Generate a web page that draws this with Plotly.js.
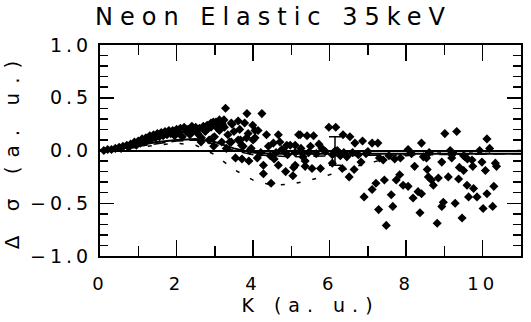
<!DOCTYPE html>
<html>
<head>
<meta charset="utf-8">
<script src="https://cdn.plot.ly/plotly-3.0.1.min.js"></script>
<style>
html,body{margin:0;padding:0;background:#fff;}
#chart{width:531px;height:322px;}
.gtitle{letter-spacing:7px;}
.xtick text,.ytick text{letter-spacing:4px;}
.xtitle{letter-spacing:7px;}
.ytitle{letter-spacing:9px;}
</style>
</head>
<body>
<div id="chart"></div>
<script>
// Measured points: momentum transfer K (a.u.) and delta sigma (a.u.)
const kPoints = [
  0.1,0.2,0.3,0.4,0.5,0.55,0.6,0.7,0.75,0.8,0.9,0.95,1.0,1.05,1.1,1.15,1.2,1.25,1.3,1.35,1.4,1.45,1.5,1.55,1.6,1.65,1.7,1.75,1.8,1.85,1.9,1.95,2.0,2.05,2.1,2.15,2.2,2.25,2.3,2.35,2.4,2.45,2.5,2.55,2.6,2.65,2.7,2.75,2.8,2.85,2.9,
  3.28,3.84,4.23,2.96,3.12,3.24,3.43,3.61,3.78,3.99,4.13,4.35,4.66,4.70,4.97,5.19,5.41,3.54,3.71,3.89,4.11,4.27,4.27,4.47,4.66,4.85,5.04,5.06,5.36,
  3.43,3.61,3.34,3.12,2.95,2.77,2.64,2.97,3.18,4.00,3.87,4.40,4.53,4.80,3.05,3.50,3.70,3.95,4.20,4.45,4.60,4.90,5.10,5.25,3.30,3.20,2.90,3.65,4.05,4.55,5.30,
  3.83,3.67,3.45,3.25,3.03,3.16,3.08,2.99,3.39,3.74,3.91,4.75,4.88,5.28,5.45,4.05,
  5.98,6.16,6.35,6.53,6.66,6.86,7.11,7.26,5.23,5.58,5.10,5.50,5.72,
  5.10,5.36,5.54,5.76,6.07,6.33,6.51,6.64,6.82,6.90,7.11,7.21,7.28,7.43,7.48,7.61,7.65,7.74,7.83,7.92,8.05,8.18,8.22,8.36,8.31,8.40,8.40,8.53,8.55,8.58,8.66,8.71,8.84,8.81,8.93,8.97,9.01,8.93,9.10,9.15,9.19,9.32,9.28,9.37,9.39,9.46,9.50,9.54,9.59,9.63,9.72,9.76,9.74,9.85,9.92,9.98,10.01,10.07,10.11,10.11,10.18,10.26,10.29,10.33,10.36,
  5.89,5.80,6.07,6.20,6.37,6.60,6.95,7.30,7.40,7.55,7.70,8.05,8.14,8.45,8.60,9.20,9.50,9.60,6.45,6.75,7.00,5.65,6.28,7.85
];
const sigmaPoints = [
  0.00,0.01,0.01,0.02,0.03,0.02,0.04,0.05,0.03,0.06,0.08,0.05,0.09,0.07,0.11,0.08,0.12,0.10,0.14,0.11,0.15,0.12,0.16,0.13,0.17,0.14,0.18,0.15,0.19,0.16,0.19,0.14,0.20,0.17,0.21,0.13,0.22,0.18,0.20,0.15,0.23,0.19,0.22,0.16,0.21,0.12,0.23,0.18,0.24,0.10,0.22,
  0.40,0.35,0.35,0.27,0.29,0.29,0.26,0.28,0.26,0.24,0.19,0.15,0.15,0.08,0.05,0.15,0.14,-0.07,-0.08,-0.10,-0.07,-0.14,-0.22,-0.31,-0.14,-0.20,-0.24,-0.16,-0.15,
  0.08,0.10,0.15,0.19,0.12,0.19,0.08,0.04,0.08,0.10,0.16,0.04,0.07,0.00,0.22,0.18,0.05,0.02,-0.02,-0.05,-0.02,-0.04,-0.02,0.02,0.02,0.25,0.26,0.20,0.12,-0.08,-0.06,
  0.12,0.10,0.25,0.22,0.27,0.27,0.21,0.13,0.08,0.04,0.00,0.01,0.05,-0.02,-0.02,0.19,
  0.22,0.22,0.15,0.13,0.07,0.09,0.07,0.07,0.15,0.14,0.05,0.04,0.06,
  -0.14,-0.10,-0.17,-0.17,-0.12,-0.17,-0.25,-0.18,-0.11,-0.44,-0.37,-0.31,-0.56,-0.28,-0.71,-0.42,-0.53,-0.28,-0.23,-0.33,-0.34,-0.45,-0.15,-0.59,-0.39,-0.41,0.07,-0.07,-0.18,-0.25,-0.28,-0.33,-0.26,-0.69,-0.53,-0.49,0.16,-0.11,-0.25,0.00,-0.07,0.18,-0.50,-0.27,-0.16,-0.64,-0.19,-0.06,-0.33,-0.44,-0.09,-0.36,-0.15,-0.44,0.00,-0.11,-0.55,-0.19,0.11,-0.41,0.02,-0.53,-0.34,-0.12,-0.15,
  -0.01,0.02,-0.04,0.00,-0.02,-0.02,-0.03,-0.07,-0.09,-0.05,-0.08,0.01,-0.03,-0.06,-0.02,-0.04,-0.05,-0.08,-0.06,-0.04,-0.01,-0.03,-0.05,-0.07
];

// Error bar shown on one representative point
const errK = [6.14];
const errSigma = [-0.005];
const errSize = [0.135];

// Theory curves
const solidK = [0,0.5,1,1.5,2,2.5,3,3.5,4,4.5,5,6,7,8,9,10,11];
const solidSigma = [0,0.02,0.05,0.08,0.10,0.11,0.08,0.02,-0.02,-0.03,-0.03,-0.03,-0.03,-0.03,-0.03,-0.03,-0.03];
const dotK = [0,0.5,1,1.5,2,2.5,3,3.5,4,4.5,5,5.5,6,6.5,7,7.5,8,9,10,11];
const dotSigma = [0,0.01,0.03,0.05,0.07,0.05,-0.04,-0.18,-0.28,-0.33,-0.32,-0.28,-0.23,-0.17,-0.12,-0.08,-0.05,-0.02,-0.01,0];
const dashK = [0,1,2,2.5,3,3.5,4,5,6,8,10,11];
const dashSigma = [0,0.04,0.09,0.10,0.06,0.0,-0.04,-0.06,-0.05,-0.04,-0.03,-0.03];

const FONT = 'DejaVu Sans, sans-serif';

const traces = [
  {x: solidK, y: solidSigma, mode: 'lines', line: {color: '#000', width: 2}, hoverinfo: 'skip'},
  {x: dotK, y: dotSigma, mode: 'lines', line: {color: '#000', width: 1.5, dash: '4px,12px'}, hoverinfo: 'skip'},
  {x: dashK, y: dashSigma, mode: 'lines', line: {color: '#000', width: 1.5, dash: '12px,6px'}, hoverinfo: 'skip'},
  {x: kPoints, y: sigmaPoints, mode: 'markers', marker: {symbol: 'diamond', size: 7, color: '#000'}},
  {x: errK, y: errSigma, mode: 'markers', marker: {symbol: 'diamond', size: 7, color: '#000'},
   error_y: {type: 'data', array: errSize, visible: true, color: '#000', thickness: 1.5, width: 6}}
];

const layout = {
  width: 531, height: 322,
  margin: {l: 100, r: 10, t: 45, b: 66},
  paper_bgcolor: '#fff', plot_bgcolor: '#fff',
  showlegend: false,
  font: {family: FONT, color: '#000', size: 18},
  title: {text: 'Neon Elastic 35keV', x: 0.515, xref: 'container', xanchor: 'center', y: 0.95, yref: 'container', yanchor: 'middle', font: {family: FONT, size: 24, color: '#000'}},
  xaxis: {
    range: [0, 11], dtick: 2, tick0: 0, showgrid: false, zeroline: false,
    showline: true, linecolor: '#000', linewidth: 2, mirror: 'ticks',
    ticks: 'inside', ticklen: 16, tickwidth: 1.5, tickcolor: '#000',
    minor: {dtick: 1, ticks: 'inside', ticklen: 10, tickwidth: 1.5, tickcolor: '#000', showgrid: false},
    tickfont: {family: FONT, size: 18}, ticklabelstandoff: 10,
    title: {text: 'K (a. u.)', font: {family: FONT, size: 19}, standoff: 4}
  },
  yaxis: {
    range: [-1, 1], dtick: 0.5, tick0: 0, tickformat: '.1f', showgrid: false,
    zeroline: true, zerolinecolor: '#000', zerolinewidth: 2,
    showline: true, linecolor: '#000', linewidth: 2, mirror: 'ticks',
    ticks: 'inside', ticklen: 14, tickwidth: 1.5, tickcolor: '#000',
    minor: {dtick: 0.1, ticks: 'inside', ticklen: 8, tickwidth: 1.5, tickcolor: '#000', showgrid: false},
    tickfont: {family: FONT, size: 19}, ticklabelstandoff: 2,
    title: {text: 'Δ σ (a. u.)', font: {family: FONT, size: 20}, standoff: 6}
  }
};

Plotly.newPlot('chart', traces, layout, {staticPlot: true, displayModeBar: false});
</script>
</body>
</html>
